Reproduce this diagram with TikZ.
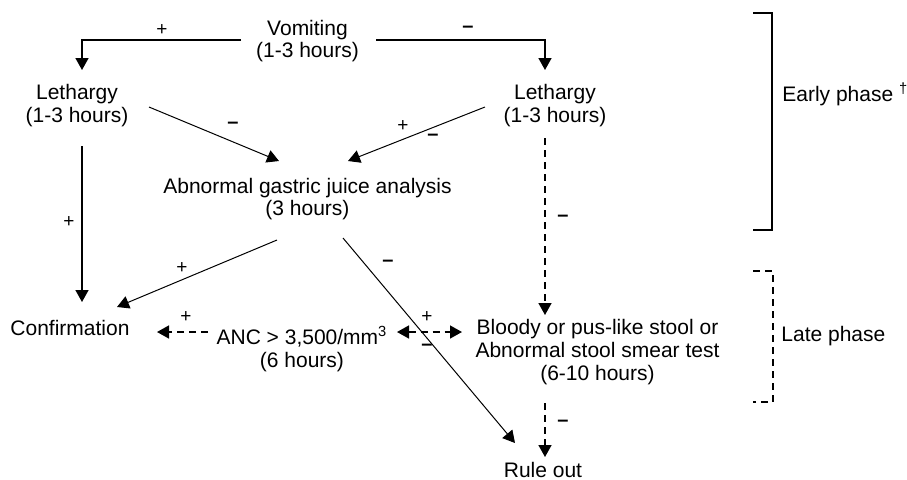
\documentclass[tikz,border=0pt]{standalone}
\usepackage{fontspec}
\setmainfont{Liberation Sans}
\usetikzlibrary{arrows.meta,calc}
\begin{document}
\begin{tikzpicture}[x=0.5pt,y=-0.5pt,
  txt/.style={inner sep=0pt,align=center,font=\fontsize{10.5}{11.4}\selectfont},
  lbl/.style={inner sep=0pt,font=\fontsize{9.5}{10}\selectfont},
  mlbl/.style={inner sep=0pt,font=\fontsize{10}{10}\selectfont\bfseries},
  tip/.style={-{Triangle[length=6pt,width=6.5pt]}},
  thickln/.style={line width=0.75pt},
  thinln/.style={line width=0.5pt},
  dashln/.style={line width=0.75pt,dash pattern=on 3.5pt off 2.5pt}]
\useasboundingbox (0,0) rectangle (907,479);
% nodes
\node[txt] (vom) at (307.5,41) {Vomiting\\(1-3 hours)};
\node[txt] (lethL) at (77,105.5) {Lethargy\\(1-3 hours)};
\node[txt] (lethR) at (555,105.5) {Lethargy\\(1-3 hours)};
\node[txt] (gas) at (307.5,199) {Abnormal gastric juice analysis\\(3 hours)};
\node[txt] (conf) at (70,328) {Confirmation};
\node[txt] (anc) at (302,349) {ANC > 3,500/mm\textsuperscript{3}\\(6 hours)};
\node[txt] (bloody) at (597.5,352) {Bloody or pus-like stool or\\Abnormal stool smear test\\(6-10 hours)};
\node[txt] (rule) at (543,470) {Rule out};
\node[txt,anchor=west] (early) at (782,94) {Early phase \textsuperscript{†}};
\node[txt,anchor=west] (late) at (781,336) {Late phase};
% connectors
\draw[thickln,tip] ($(vom)+(-66.5,-1)$) -| ($(lethL)+(5,-35.5)$);
\draw[thickln,tip] ($(vom)+(68.5,-1)$) -| ($(lethR)+(-10,-35.5)$);
\draw[thinln,tip] ($(lethL)+(72,1.5)$) -- ($(gas)+(-28.5,-38)$);
\draw[thinln,tip] ($(lethR)+(-70,1.5)$) -- ($(gas)+(40.5,-38)$);
\draw[thickln,tip] ($(lethL)+(5,40.5)$) -- ($(conf)+(12,-26)$);
\draw[thinln,tip] ($(gas)+(-30.5,41)$) -- ($(conf)+(47,-21)$);
\draw[thinln,tip] ($(gas)+(35.5,39)$) -- ($(rule)+(-28,-27)$);
\draw[dashln,tip] ($(anc)+(-94,-17)$) -- ($(conf)+(87,4)$);
\draw[dashln,{Triangle[length=6pt,width=6.5pt]}-{Triangle[length=6pt,width=6.5pt]}] ($(anc)+(95,-17)$) -- ($(bloody)+(-135.5,-20)$);
\draw[dashln,tip] ($(lethR)+(-10,32.5)$) -- ($(bloody)+(-52.5,-37)$);
\draw[dashln,tip] ($(bloody)+(-52.5,51)$) -- ($(rule)+(2,-13)$);
% brackets
\draw[thickln] (753,13) -- (772,13) -- (772,230) -- (753,230);
\draw[dashln] (753,271) -- (773,271) -- (773,402) -- (753,402);
% labels
\node[lbl] (l1) at (162,30) {+};
\node[mlbl] (l2) at (468,29) {–};
\node[mlbl] (l3) at (233,125) {–};
\node[lbl] (l4) at (403,126) {+};
\node[mlbl] (l5) at (433,137) {–};
\node[lbl] (l6) at (69,222) {+};
\node[lbl] (l7) at (182,268) {+};
\node[mlbl] (l8) at (388,263) {–};
\node[lbl] (l9) at (186,317) {+};
\node[lbl] (l10) at (427,317) {+};
\node[mlbl] (l11) at (427,347) {–};
\node[mlbl] (l12) at (563,218) {–};
\node[mlbl] (l13) at (563,423) {–};
\end{tikzpicture}
\end{document}
